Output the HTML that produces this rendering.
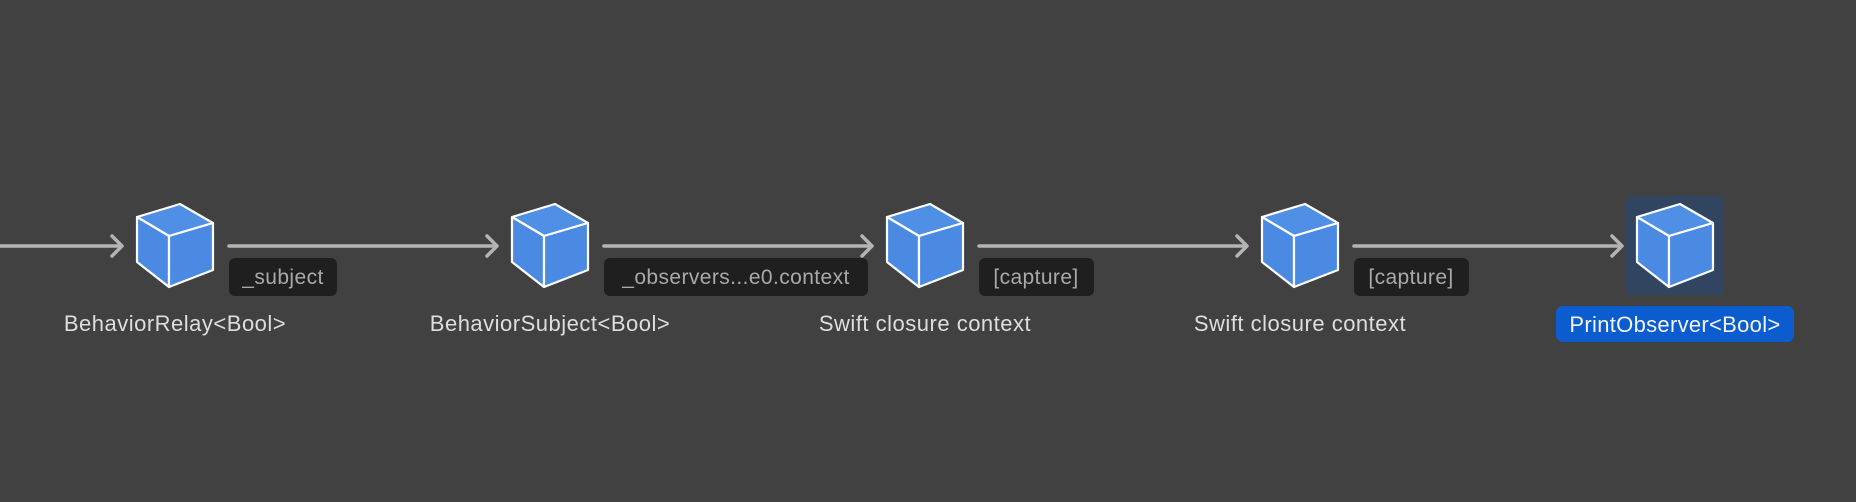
<!DOCTYPE html>
<html><head><style>
html,body{margin:0;padding:0;background:#414141;}
svg{display:block}
text{font-family:"Liberation Sans",Arial,sans-serif;}
</style></head><body>
<svg width="1856" height="502" viewBox="0 0 1856 502" xmlns="http://www.w3.org/2000/svg">
<rect width="1856" height="502" fill="#414141"/>
<defs>
<g id="cube">
<polygon points="-38,-29 5,-42 38,-23 -6,-10" fill="#4f8fe6" stroke="#fff" stroke-width="2.2" stroke-linejoin="round"/>
<polygon points="-38,-29 -6,-10 -6,41 -38,16" fill="#4a8ae3" stroke="#fff" stroke-width="2.2" stroke-linejoin="round"/>
<polygon points="-6,-10 38,-23 38,24 -6,41" fill="#4a8ae3" stroke="#fff" stroke-width="2.2" stroke-linejoin="round"/>
</g>
</defs>
<g stroke="#b4b4b4" stroke-width="3.5" fill="none" stroke-linecap="round" stroke-linejoin="round">
<line x1="0" y1="246" x2="121" y2="246"/><polyline points="112,236 122,246 112,256"/>
<line x1="229" y1="246" x2="496" y2="246"/><polyline points="487,236 497,246 487,256"/>
<line x1="604" y1="246" x2="871" y2="246"/><polyline points="862,236 872,246 862,256"/>
<line x1="979" y1="246" x2="1246" y2="246"/><polyline points="1237,236 1247,246 1237,256"/>
<line x1="1354" y1="246" x2="1621" y2="246"/><polyline points="1612,236 1622,246 1612,256"/>
</g>
<rect x="1626" y="196" width="98" height="99" rx="6" fill="#324560"/>
<use href="#cube" x="175" y="246"/>
<use href="#cube" x="550" y="246"/>
<use href="#cube" x="925" y="246"/>
<use href="#cube" x="1300" y="246"/>
<use href="#cube" x="1675" y="246"/>
<g font-size="21" fill="#a9a9a9" letter-spacing="0.4">
<rect x="229" y="258" width="108" height="38" rx="6" fill="#1f1f1f"/>
<text x="283" y="284" text-anchor="middle">_subject</text>
<rect x="604" y="258" width="264" height="38" rx="6" fill="#1f1f1f"/>
<text x="736" y="284" text-anchor="middle">_observers...e0.context</text>
<rect x="979" y="258" width="115" height="38" rx="6" fill="#1f1f1f"/>
<text x="1036" y="284" text-anchor="middle">[capture]</text>
<rect x="1354" y="258" width="115" height="38" rx="6" fill="#1f1f1f"/>
<text x="1411" y="284" text-anchor="middle">[capture]</text>
</g>
<g font-size="22" fill="#dedede" text-anchor="middle" letter-spacing="0.5">
<text x="175" y="331">BehaviorRelay&lt;Bool&gt;</text>
<text x="550" y="331">BehaviorSubject&lt;Bool&gt;</text>
<text x="925" y="331">Swift closure context</text>
<text x="1300" y="331">Swift closure context</text>
</g>
<rect x="1556" y="306" width="238" height="36" rx="7" fill="#0b5ccf"/>
<text x="1675" y="332" font-size="22" fill="#f4f4f4" text-anchor="middle" letter-spacing="0.3">PrintObserver&lt;Bool&gt;</text>
</svg>
</body></html>
